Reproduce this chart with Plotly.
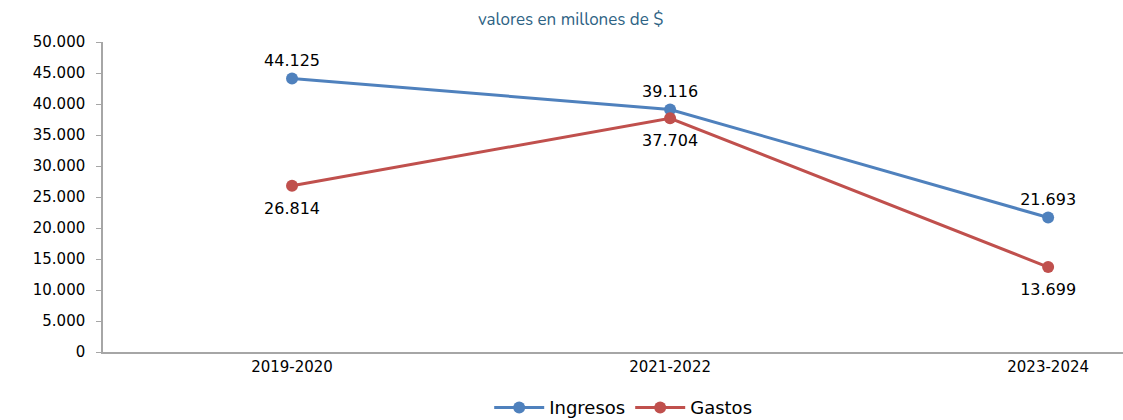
import plotly.graph_objects as go

categories = ["2019-2020", "2021-2022", "2023-2024"]
ingresos = [44125, 39116, 21693]
gastos = [26814, 37704, 13699]
yticks = [0, 5000, 10000, 15000, 20000, 25000, 30000, 35000, 40000, 45000, 50000]

BLUE = "#4F81BD"
RED = "#C0504D"
FONT = "DejaVu Sans"


def fmt(v):
    return f"{v:,}".replace(",", ".")


fig = go.Figure()
fig.add_trace(go.Scatter(
    x=categories, y=ingresos, name="Ingresos", mode="lines+markers+text",
    line=dict(color=BLUE, width=3), marker=dict(size=12, color=BLUE),
    text=[fmt(v) for v in ingresos], textposition="top center",
    textfont=dict(family=FONT, size=16, color="#000000"),
))
fig.add_trace(go.Scatter(
    x=categories, y=gastos, name="Gastos", mode="lines+markers",
    line=dict(color=RED, width=3), marker=dict(size=12, color=RED),
))
# labels for Gastos, set a little further below the points
fig.add_trace(go.Scatter(
    x=categories, y=gastos, mode="markers+text", showlegend=False, hoverinfo="skip",
    marker=dict(size=24, color="rgba(0,0,0,0)"),
    text=[fmt(v) for v in gastos], textposition="bottom center",
    textfont=dict(family=FONT, size=16, color="#000000"),
))

fig.update_layout(
    width=1123, height=420,
    margin=dict(l=103, r=0, t=42, b=68, autoexpand=False),
    paper_bgcolor="white", plot_bgcolor="white",
    separators=",.",
    showlegend=True,
    legend=dict(orientation="h", x=0.51, xanchor="center", y=-0.12, yanchor="top",
                font=dict(family=FONT, size=18, color="#000000"), itemwidth=50),
    annotations=[dict(text="valores en millones de $", xref="paper", yref="paper",
                      x=(570 - 103) / 1020, y=1 + 22 / 310, xanchor="center", yanchor="middle",
                      showarrow=False, font=dict(family="Nunito, Open Sans, Lato", size=17, color="#2E6384"))],
)
fig.update_xaxes(
    type="category", range=[-0.5, 2.198], showline=True, linecolor="#A6A6A6", linewidth=1.5,
    ticks="", showgrid=False, zeroline=False, automargin=False,
    tickfont=dict(family=FONT, size=15, color="#000000"),
)
fig.update_yaxes(
    range=[0, 50000], tickvals=yticks, tickformat=",d", showline=True, linecolor="#A6A6A6",
    linewidth=1.5, ticks="outside", ticklen=5, tickcolor="#A6A6A6", showgrid=False, zeroline=False,
    automargin=False, ticklabelstandoff=8, tickfont=dict(family=FONT, size=15, color="#000000"),
)
fig.write_html("out.html", config={"displayModeBar": False},
               post_script="document.body.style.margin='0';document.body.style.overflow='hidden';")
